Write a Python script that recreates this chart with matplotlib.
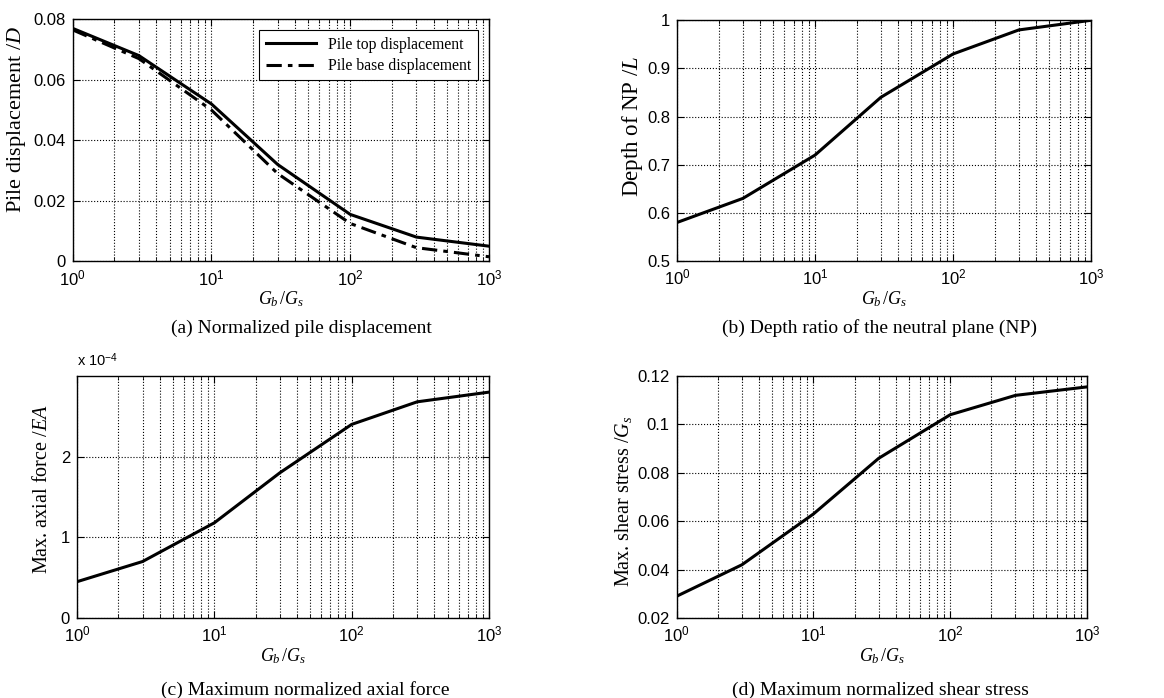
import numpy as np
import matplotlib
matplotlib.use('Agg')
import matplotlib.pyplot as plt
from matplotlib.ticker import FuncFormatter, LogLocator

plt.rcParams['font.family'] = ['Liberation Serif', 'DejaVu Serif']
plt.rcParams['mathtext.fontset'] = 'custom'
plt.rcParams['mathtext.rm'] = 'Liberation Serif'
plt.rcParams['mathtext.it'] = 'Liberation Serif:italic'

# stiffness ratio Gb/Gs
ratio = [1, 3, 10, 30, 100, 300, 1000]

# (a) normalized pile displacement
top_disp = [0.077, 0.068, 0.052, 0.032, 0.0155, 0.008, 0.005]
base_disp = [0.0765, 0.067, 0.050, 0.029, 0.0125, 0.0045, 0.0015]

# (b) depth ratio of neutral plane
np_depth = [0.58, 0.63, 0.72, 0.84, 0.93, 0.98, 1.0]

# (c) max normalized axial force (x 1e-4)
axial_force = [0.45, 0.70, 1.18, 1.80, 2.40, 2.68, 2.80]

# (d) max normalized shear stress
shear_stress = [0.029, 0.042, 0.063, 0.086, 0.104, 0.112, 0.1155]

W, H = 1164, 698
fig = plt.figure(figsize=(W / 100, H / 100), dpi=100)


def box(l, r, t, b):
    return [l / W, 1 - b / H, (r - l) / W, (b - t) / H]


def style_axis(ax, ylim, yticks):
    ax.set_xscale('log')
    ax.set_xlim(1, 1000)
    ax.set_ylim(*ylim)
    ax.set_yticks(yticks)
    ax.yaxis.set_major_formatter(FuncFormatter(lambda v, p: '%g' % round(v, 6)))
    ax.xaxis.set_minor_locator(LogLocator(base=10, subs=np.arange(2, 10)))
    ax.grid(True, which='both', axis='x', linestyle=':', color='k', lw=0.8)
    ax.grid(True, which='major', axis='y', linestyle=':', color='k', lw=0.8)
    ax.tick_params(which='both', direction='in', top=True, right=True,
                   labelsize=12, labelfontfamily='Liberation Sans')
    ax.tick_params(which='major', length=5)
    ax.tick_params(which='minor', length=3)
    ax.tick_params(axis='x', which='major', pad=5)
    ax.tick_params(axis='y', which='major', pad=5)
    ax.set_xlabel(r'$G_b\,$/$G_s$', fontsize=13, labelpad=1)
    for s in ax.spines.values():
        s.set_linewidth(1.0)


ax1 = fig.add_axes(box(72.7, 489, 19.3, 261.3))
ax1.plot(ratio, top_disp, 'k-', lw=2.2, label='Pile top displacement')
ax1.plot(ratio, base_disp, 'k', lw=2.2, linestyle=(0, (5, 2, 1.5, 2)),
         label='Pile base displacement')
style_axis(ax1, (0, 0.08), [0, 0.02, 0.04, 0.06, 0.08])
ax1.set_ylabel('Pile displacement /$D$', fontsize=16)
ax1.yaxis.set_label_coords(-0.108, 0.585)
leg = ax1.legend(loc='upper right', fontsize=11.3, frameon=True, fancybox=False,
                 edgecolor='k', framealpha=1, borderaxespad=0.7, handlelength=3.2,
                 labelspacing=0.35, borderpad=0.4)
leg.get_frame().set_linewidth(0.8)

ax2 = fig.add_axes(box(677, 1091, 20.3, 261))
ax2.plot(ratio, np_depth, 'k-', lw=2.2)
style_axis(ax2, (0.5, 1.0), [0.5, 0.6, 0.7, 0.8, 0.9, 1.0])
ax2.set_ylabel('Depth of NP /$L$', fontsize=16.5)
ax2.yaxis.set_label_coords(-0.078, 0.56)

ax3 = fig.add_axes(box(77, 489, 376, 618))
ax3.plot(ratio, axial_force, 'k-', lw=2.2)
style_axis(ax3, (0, 3), [0, 1, 2])
ax3.set_ylabel('Max. axial force /$EA$', fontsize=14.5)
ax3.yaxis.set_label_coords(-0.061, 0.533)
ax3.text(0, 1.03, r'x 10$^{\mathdefault{-4}}$', transform=ax3.transAxes,
         fontsize=10.5, family='Liberation Sans', va='bottom', ha='left')

ax4 = fig.add_axes(box(676.7, 1087, 376, 618))
ax4.plot(ratio, shear_stress, 'k-', lw=2.2)
style_axis(ax4, (0.02, 0.12), [0.02, 0.04, 0.06, 0.08, 0.1, 0.12])
ax4.set_ylabel('Max. shear stress /$G_s$', fontsize=14.5)
ax4.yaxis.set_label_coords(-0.105, 0.481)

captions = [
    (301, 328, '(a) Normalized pile displacement'),
    (880, 328, '(b) Depth ratio of the neutral plane (NP)'),
    (305, 690, '(c) Maximum normalized axial force'),
    (880, 690, '(d) Maximum normalized shear stress'),
]
for x, y, txt in captions:
    fig.text(x / W, 1 - y / H, txt, ha='center', va='center', fontsize=14)

fig.savefig('out.png', dpi=100)
